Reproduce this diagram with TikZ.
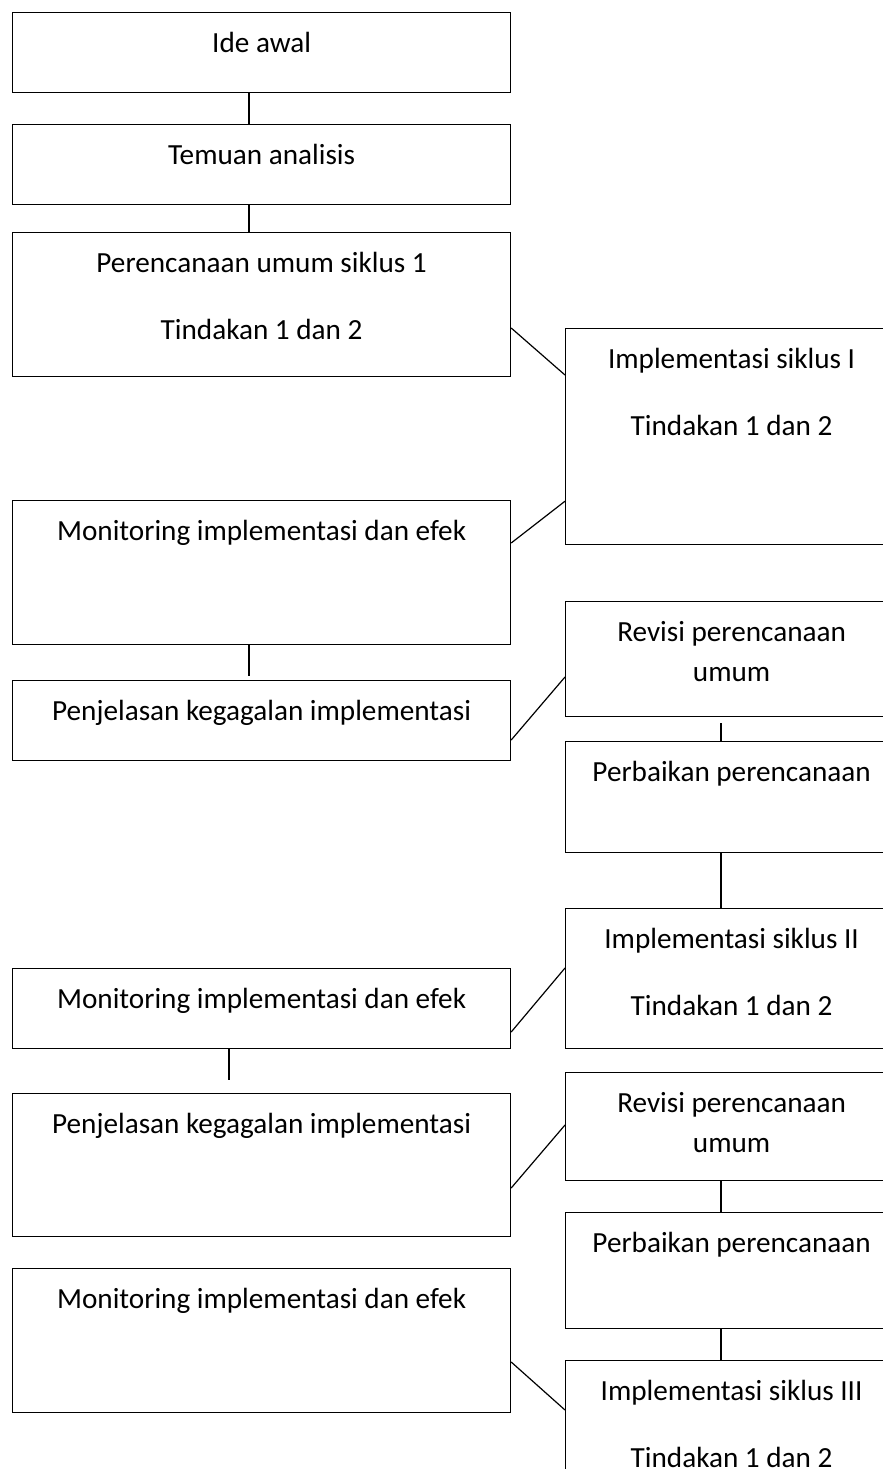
\documentclass[tikz,border=0pt]{standalone}
\usepackage{fontspec}
\setmainfont{Carlito}
\usepackage{tikz}

\begin{document}
\begin{tikzpicture}[x=0.5pt,y=-0.5pt,
  box/.style={draw, line width=0.6pt, anchor=north west, inner sep=0pt,
    align=center, text height=20pt, font=\fontsize{14.6}{20}\selectfont},
  lbox/.style={box, minimum width=249pt},
  rbox/.style={box, minimum width=166pt},
  link/.style={line width=0.6pt}]
\useasboundingbox (0,0) rectangle (883,1469);
\clip (0,0) rectangle (883,1469);
\coordinate (lspine) at (249,0);
\coordinate (lspine2) at (229,0);
\coordinate (rspine) at (721,0);
      \node[lbox, text depth=20pt] (ide) at (12,12) {Ide awal};
      \node[lbox, text depth=20pt] (temuan) at (12,124) {Temuan analisis};
      \node[lbox, text height=53.5pt, text depth=18.5pt] (perenc) at (12,232) {Perencanaan umum siklus 1\\[13.5pt]Tindakan 1 dan 2};
      \node[rbox, text height=53.5pt, text depth=54.5pt] (impl1) at (565,328) {Implementasi siklus I\\[13.5pt]Tindakan 1 dan 2};
      \node[lbox, text depth=52pt] (mon1) at (12,500) {Monitoring implementasi dan efek};
      \node[lbox, text depth=20pt] (penj1) at (12,680) {Penjelasan kegagalan implementasi};
      \node[rbox, text height=40pt, text depth=17.5pt] (rev1) at (565,601) {Revisi perencanaan\\umum};
      \node[rbox, text depth=35.5pt] (perb1) at (565,741) {Perbaikan perencanaan};
      \node[rbox, text height=53.5pt, text depth=16.5pt] (impl2) at (565,908) {Implementasi siklus II\\[13.5pt]Tindakan 1 dan 2};
      \node[lbox, text depth=20pt] (mon2) at (12,968) {Monitoring implementasi dan efek};
      \node[lbox, text depth=51.5pt] (penj2) at (12,1093) {Penjelasan kegagalan implementasi};
      \node[rbox, text height=40pt, text depth=14pt] (rev2) at (565,1072) {Revisi perencanaan\\umum};
      \node[rbox, text depth=38pt] (perb2) at (565,1212) {Perbaikan perencanaan};
      \node[rbox, text height=53.5pt, text depth=46.5pt] (impl3) at (565,1360) {Implementasi siklus III\\[13.5pt]Tindakan 1 dan 2};
      \node[lbox, text depth=52pt] (mon3) at (12,1268) {Monitoring implementasi dan efek};
      \draw[link] (ide.south -| lspine) -- (temuan.north -| lspine);
      \draw[link] (temuan.south -| lspine) -- (perenc.north -| lspine);
      \draw[link, shorten >=2pt] (mon1.south -| lspine) -- (penj1.north -| lspine);
      \draw[link, shorten >=6.5pt] (mon2.south -| lspine2) -- (penj2.north -| lspine2);
      \draw[link, shorten <=3pt] (rev1.south -| rspine) -- (perb1.north -| rspine);
      \draw[link] (perb1.south -| rspine) -- (impl2.north -| rspine);
      \draw[link] (rev2.south -| rspine) -- (perb2.north -| rspine);
      \draw[link] (perb2.south -| rspine) -- (impl3.north -| rspine);
      \draw[link] ([yshift=-48pt]perenc.north east) -- ([yshift=-23.5pt]impl1.north west);
      \draw[link] ([yshift=-21.5pt]mon1.north east) -- ([yshift=22pt]impl1.south west);
      \draw[link] ([yshift=-30pt]penj1.north east) -- ([yshift=-38pt]rev1.north west);
      \draw[link] ([yshift=-32pt]mon2.north east) -- ([yshift=-30pt]impl2.north west);
      \draw[link] ([yshift=-47.5pt]penj2.north east) -- ([yshift=-26.5pt]rev2.north west);
      \draw[link] ([yshift=-47pt]mon3.north east) -- ([yshift=-25pt]impl3.north west);
\end{tikzpicture}
\end{document}
